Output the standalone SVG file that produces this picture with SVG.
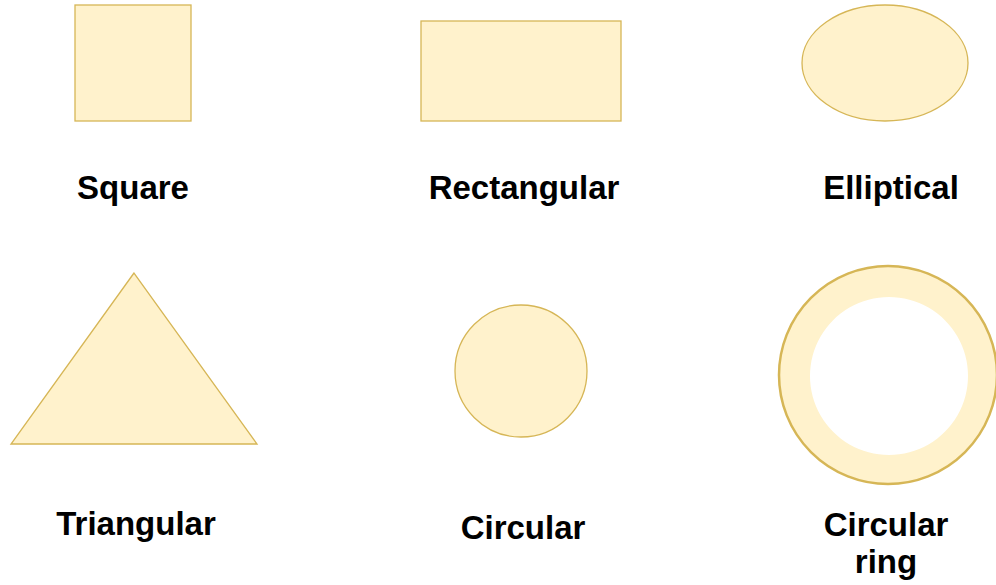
<svg xmlns="http://www.w3.org/2000/svg" width="996" height="585" viewBox="0 0 996 585">
<style>
.s{fill:#fff2cc;stroke:#d6b656;stroke-width:1.3}
.t{font-family:"Liberation Sans",Arial,sans-serif;font-weight:bold;font-size:33px;fill:#000;text-anchor:middle}
</style>
<rect width="996" height="585" fill="#ffffff"/>
<g id="square"><rect class="s" x="75" y="5" width="116" height="116"/><text class="t" x="133" y="199">Square</text></g>
<g id="rectangular"><rect class="s" x="421" y="21" width="200" height="100"/><text class="t" x="524" y="199">Rectangular</text></g>
<g id="elliptical"><ellipse class="s" cx="885" cy="63" rx="83" ry="58"/><text class="t" x="891" y="199">Elliptical</text></g>
<g id="triangular"><polygon class="s" points="134,273 11,444 257,444"/><text class="t" x="136" y="535">Triangular</text></g>
<g id="circular"><circle class="s" cx="521" cy="371" r="66"/><text class="t" x="523" y="539">Circular</text></g>
<g id="circular-ring"><path d="M888,266a109,109 0 1,0 0.01,0Z M889,297a79,79 0 1,1 -0.01,0Z" fill="#fff2cc" fill-rule="evenodd"/><circle cx="888" cy="375" r="109" fill="none" stroke="#d6b656" stroke-width="2.5"/><text class="t" x="886" y="536">Circular</text><text class="t" x="886" y="573">ring</text></g>
</svg>
